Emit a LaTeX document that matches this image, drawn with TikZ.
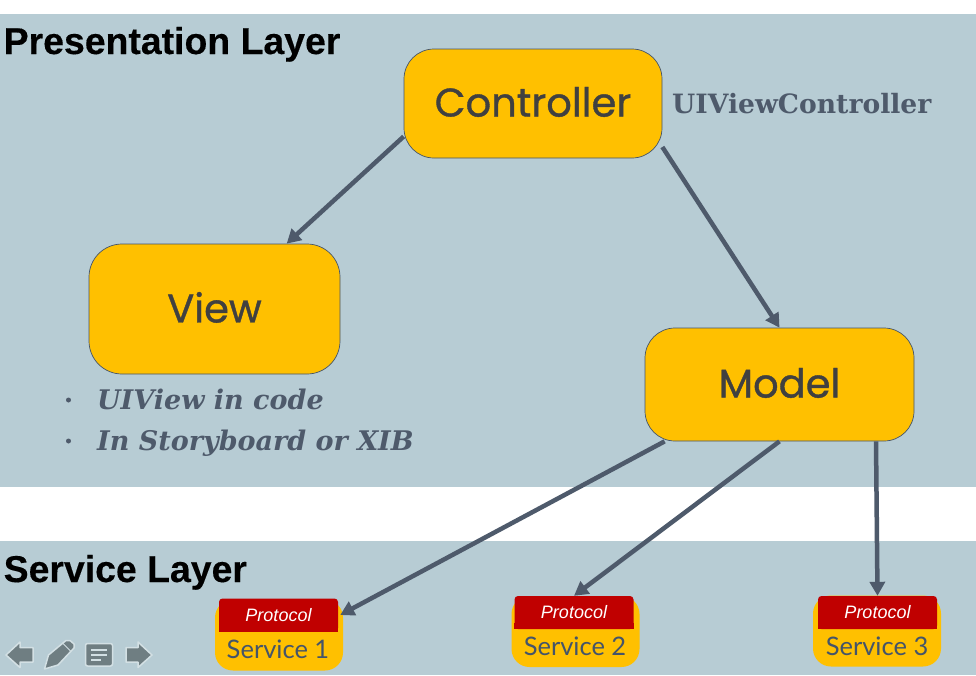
\documentclass[tikz,border=0pt]{standalone}
\usepackage{fontspec}
\setmainfont{Liberation Sans}
\newfontfamily\avenirf{Lato}
\newfontfamily\geof[FakeBold=0.9]{Poppins}
\newfontfamily\serifbf{DejaVu Serif}
\usetikzlibrary{arrows.meta}
\definecolor{panel}{HTML}{B7CCD4}
\definecolor{amber}{HTML}{FFC000}
\definecolor{slate}{HTML}{4E5A6B}
\definecolor{edgeblue}{HTML}{44546A}
\definecolor{proto}{HTML}{C00000}
\definecolor{ink}{HTML}{404040}
\definecolor{icon}{HTML}{6F7E82}
\definecolor{iconrim}{HTML}{D3E0E4}
\tikzset{
  layerbox/.style={draw=none,fill=panel,inner sep=0pt,anchor=north west},
  layertitle/.style={anchor=base west,inner sep=0pt,font=\fontsize{37.4}{37.4}\selectfont\bfseries\addfontfeatures{FakeBold=0.3},text=black},
  bigbox/.style={draw=edgeblue,line width=.7pt,fill=amber,rounded corners=30pt,inner sep=0pt,text=ink,font=\geof\fontsize{40}{40}\selectfont},
  servicebox/.style={fill=amber,rounded corners=18pt,inner sep=0pt,minimum width=128pt,minimum height=71pt},
  protobox/.style={fill=proto,inner sep=0pt,minimum width=119pt,minimum height=33pt,text=white,rounded corners=3.5pt,
     font=\fontsize{18}{18}\selectfont\itshape},
  servicetext/.style={inner sep=0pt,text=edgeblue,font=\avenirf\fontsize{25.5}{25.5}\selectfont},
  note/.style={inner sep=0pt,anchor=base west,text=slate,font=\serifbf\bfseries\fontsize{26.6}{26.6}\selectfont},
  notei/.style={note,font=\serifbf\bfseries\itshape\fontsize{27}{27}\selectfont},
  link/.style={draw=slate,line width=4.5pt,-{Triangle[length=14pt,width=15pt]}},
  iconshape/.style={fill=icon,draw=iconrim,line width=1.5pt,line join=round},
}
\begin{document}
\begin{tikzpicture}[x=1pt,y=-1pt]
\useasboundingbox (0,0) rectangle (976,675);
\fill[white] (0,0) rectangle (976,675);
\node[layerbox,minimum width=976pt,minimum height=473pt] (top) at (0,14) {};
\node[layerbox,minimum width=976pt,minimum height=134pt] (bottom) at (0,541) {};
\node[layertitle] (t1) at (3.5,54) {Presentation Layer};
\node[layertitle] (t2) at (3.5,582) {Service Layer};
\node[bigbox,minimum width=258pt,minimum height=109pt] (ctrl) at (533,103.5) {\raisebox{3.5pt}{Controller}};
\node[bigbox,minimum width=251pt,minimum height=130pt,rounded corners=33pt] (view) at (214.5,309) {\raisebox{3.5pt}{View}};
\node[bigbox,minimum width=269pt,minimum height=113pt] (model) at (779.5,384.5) {\raisebox{3.5pt}{Model}};
\node[note] (uivc) at (672,113) {UIViewController};
\node[notei] (n1) at (97,409.5) {UIView in code};
\node[notei] (n2) at (97,450) {In Storyboard or XIB};
\fill[slate] (68.5,400) circle (2.5pt) (68.5,441) circle (2.5pt);
\node[servicebox] (s1) at (279,635) {};
\node[servicebox] (s2) at (575.5,631.5) {};
\node[servicebox] (s3) at (877,631) {};
\node[protobox] (p1) at (278.5,615) {Protocol};
\node[protobox] (p2) at (574,612.5) {Protocol};
\node[protobox] (p3) at (877.5,612.5) {Protocol};
\fill[proto] (p1.south west) rectangle ([yshift=6pt]p1.south east);
\fill[proto] (p2.south west) rectangle ([yshift=6pt]p2.south east);
\fill[proto] (p3.south west) rectangle ([yshift=6pt]p3.south east);
\node[servicetext] (l1) at (278,649) {Service 1};
\node[servicetext] (l2) at (575,646) {Service 2};
\node[servicetext] (l3) at (877,646) {Service 3};
\draw[link] ([yshift=-33pt]ctrl.west) -- ([xshift=198pt]view.north west);
\draw[link] ([yshift=-43.5pt]ctrl.east) -- (model.north);
\draw[link] ([xshift=20pt]model.south west) -- ([xshift=2pt]p1.east);
\draw[link] (model.south) -- (p2.north);
\draw[link] ([xshift=96.5pt]model.south) -- (p3.north);
% navigation icons
\path[iconshape] (6,655) -- (20,642) -- (20,647.5) -- (33,647.5) -- (33,662) -- (20,662) -- (20,667.5) -- cycle;
\path[iconshape] (152,655) -- (138,642) -- (138,647.5) -- (126,647.5) -- (126,662) -- (138,662) -- (138,667.5) -- cycle;
\path[iconshape,rounded corners=2pt] (85.5,643.5) rectangle (112.5,666);
\draw[iconrim,line width=1.5pt] (91,650) -- (107,650) (91,655) -- (107,655) (91,660) -- (101,660);
\path[iconshape] (44.5,669) -- (48.5,655) -- (66,640.5) -- (70,640.5) -- (74,644) -- (74,648) -- (58,665) -- cycle;
\draw[iconrim,line width=1pt] (63,643.5) -- (71,651.5);
\end{tikzpicture}
\end{document}
